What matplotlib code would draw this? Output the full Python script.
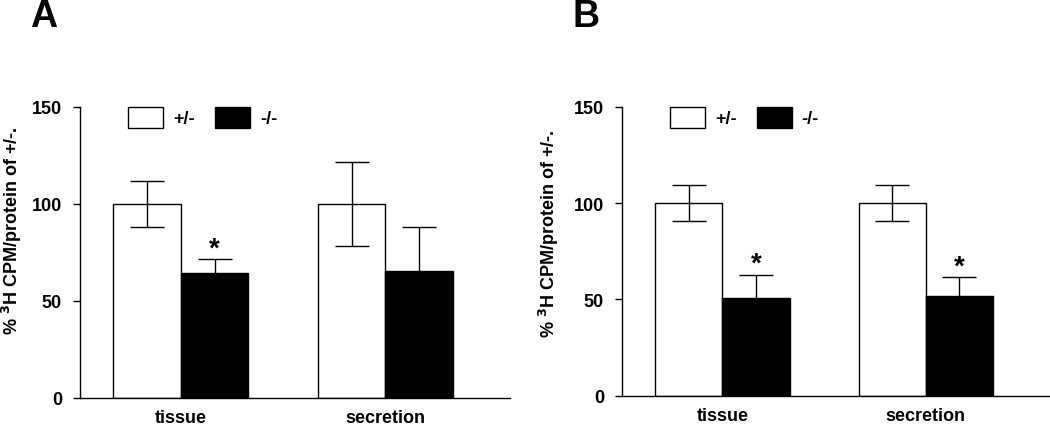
import matplotlib
matplotlib.use("Agg")
import matplotlib.pyplot as plt
import numpy as np
from matplotlib.patches import Patch

plt.rcParams["font.family"] = ["Liberation Sans", "DejaVu Sans"]
plt.rcParams["font.weight"] = "bold"

# ---------------------------------------------------------------------------
# Data
# ---------------------------------------------------------------------------
groups = ["tissue", "secretion"]
series = ["+/-", "-/-"]

a_het = [100, 100]
a_het_err = [12, 21.5]
a_ko = [64.5, 65.3]
a_ko_err = [7, 23]
a_star = [True, False]

b_het = [100, 100]
b_het_err = [9.5, 9.2]
b_ko = [50.8, 51.6]
b_ko_err = [12, 9.8]
b_star = [True, True]

ylabel = "% $\\mathbf{^3}$H CPM/protein of +/-."


def draw_panel(fig, ax, het, het_err, ko, ko_err, star, letter, label_xy):
    x = np.arange(len(groups))
    w = 0.33
    ax.bar(x - w / 2, het, w, color="white", edgecolor="black", linewidth=1.0, zorder=2)
    ax.bar(x + w / 2, ko, w, color="black", edgecolor="black", linewidth=1.0, zorder=2)
    ax.errorbar(x - w / 2, het, yerr=het_err, fmt="none", ecolor="black",
                elinewidth=1.0, capsize=12, capthick=1.0, zorder=3)
    ax.errorbar(x + w / 2, ko, yerr=ko_err, fmt="none", ecolor="black",
                elinewidth=1.0, capsize=12, capthick=1.0, zorder=1)
    for xi, v, e, s in zip(x, ko, ko_err, star):
        if s:
            ax.text(xi + w / 2, v + e - 1.0, "*", ha="center", va="bottom",
                    fontsize=20, fontweight="bold")

    ax.set_xlim(-0.493, 1.61)
    ax.set_ylim(0, 150)
    ax.set_yticks([0, 50, 100, 150])
    ax.set_xticks(x)
    ax.set_xticklabels(groups, fontsize=13, fontweight="bold")
    ax.tick_params(axis="x", length=0, pad=8)
    ax.tick_params(axis="y", direction="out", length=5, width=1.0, labelsize=13, pad=8)
    for lab in ax.get_yticklabels():
        lab.set_fontweight("bold")
    for side in ("top", "right"):
        ax.spines[side].set_visible(False)
    for side in ("left", "bottom"):
        ax.spines[side].set_linewidth(1.0)

    fig.text(label_xy[0], label_xy[1], ylabel, rotation=90, ha="center", va="center",
             fontsize=13, fontweight="bold")

    handles = [Patch(facecolor="white", edgecolor="black", linewidth=1.0, label=series[0]),
               Patch(facecolor="black", edgecolor="black", linewidth=1.0, label=series[1])]
    ax.legend(handles=handles, ncol=2, loc="upper left", bbox_to_anchor=(0.112, 1.0),
              frameon=False, handlelength=1.95, handleheight=1.4, columnspacing=1.1,
              handletextpad=0.55, borderpad=0, borderaxespad=0,
              prop={"size": 13, "weight": "bold"})

    ax.text(-0.085, 1.375, letter, transform=ax.transAxes, fontsize=27,
            fontweight="bold", ha="center", va="top")


fig = plt.figure(figsize=(10.5, 4.27), dpi=100)
ax_a = fig.add_axes([0.0762, 0.0656, 0.4095, 0.6815])
ax_b = fig.add_axes([0.5924, 0.0710, 0.4076, 0.6768])

draw_panel(fig, ax_a, a_het, a_het_err, a_ko, a_ko_err, a_star, "A", (0.0114, 0.461))
draw_panel(fig, ax_b, b_het, b_het_err, b_ko, b_ko_err, b_star, "B", (0.523, 0.454))

fig.savefig("out.png", dpi=100)
